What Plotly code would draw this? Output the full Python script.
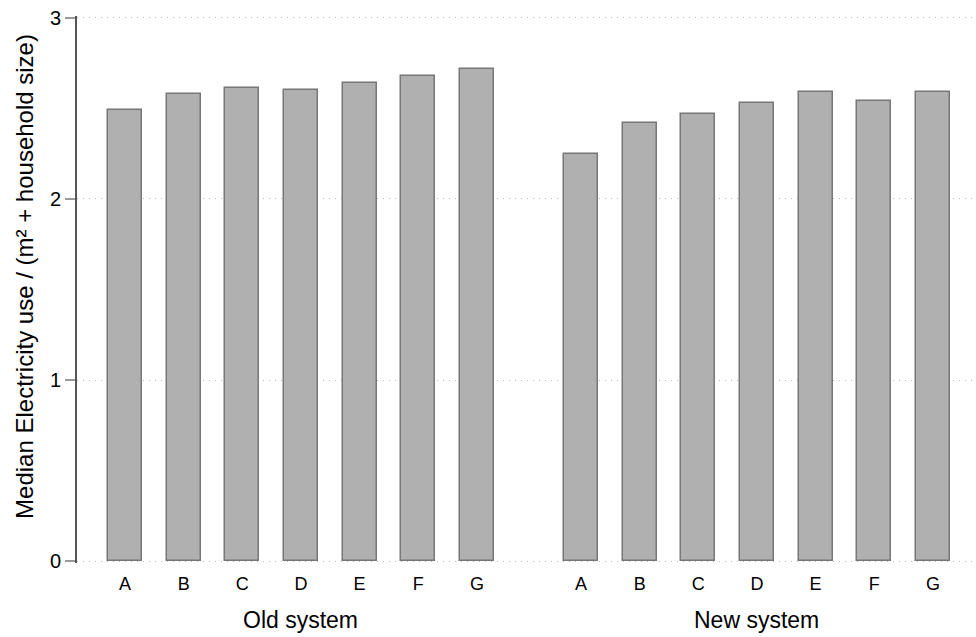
import plotly.graph_objects as go

# Median electricity use per (m² + household size), by category and system
categories = ["A", "B", "C", "D", "E", "F", "G"]
old_system = [2.49, 2.58, 2.61, 2.60, 2.64, 2.68, 2.72]
new_system = [2.25, 2.42, 2.47, 2.53, 2.59, 2.54, 2.59]
group_labels = ["Old system", "New system"]
y_ticks = [0, 1, 2, 3]

# numeric slots: the second group sits after a wider gap
GROUP_OFFSET = 7.775
x_old = list(range(len(categories)))
x_new = [i + GROUP_OFFSET for i in x_old]

FONT = "Liberation Sans, Arial, sans-serif"
BAR_FILL = "#b0b0b0"
BAR_EDGE = "#777777"

fig = go.Figure()
for xs, ys in ((x_old, old_system), (x_new, new_system)):
    fig.add_trace(go.Bar(
        x=xs, y=ys, width=0.58,
        marker=dict(color=BAR_FILL, line=dict(color=BAR_EDGE, width=1.5)),
        showlegend=False, hoverinfo="skip",
    ))

fig.update_layout(
    width=976, height=637,
    margin=dict(l=77, r=0, t=16, b=74),
    paper_bgcolor="white", plot_bgcolor="white",
    font=dict(family=FONT, color="black"),
    bargap=0,
    xaxis=dict(
        range=[-0.818, 14.51],
        tickvals=x_old + x_new,
        ticktext=categories + categories,
        tickfont=dict(size=18),
        ticks="", ticklabelstandoff=8,
        showgrid=False, zeroline=False, showline=False,
        fixedrange=True,
    ),
    yaxis=dict(
        range=[-0.01, 3.01],
        tickvals=y_ticks,
        tickfont=dict(size=20),
        ticks="outside", ticklen=10, tickwidth=1.5, tickcolor="#999999",
        showgrid=True, gridcolor="#bbbbbb", gridwidth=1, griddash="1px,5px",
        zeroline=False,
        showline=True, linecolor="#555555", linewidth=2,
        fixedrange=True,
    ),
)

# Y axis title
fig.add_annotation(
    text="Median Electricity use / (m² + household size)",
    xref="paper", yref="paper", x=0, y=0.523,
    xanchor="center", yanchor="middle", xshift=-52,
    textangle=-90, showarrow=False,
    font=dict(size=24, family=FONT),
)

# Group labels under each block of bars
for label, xs in zip(group_labels, (x_old, x_new)):
    fig.add_annotation(
        text=label, xref="x", yref="paper",
        x=(xs[0] + xs[-1]) / 2, y=-0.105,
        xanchor="center", yanchor="middle",
        showarrow=False, font=dict(size=23, family=FONT),
    )

fig.write_html("out.html")
